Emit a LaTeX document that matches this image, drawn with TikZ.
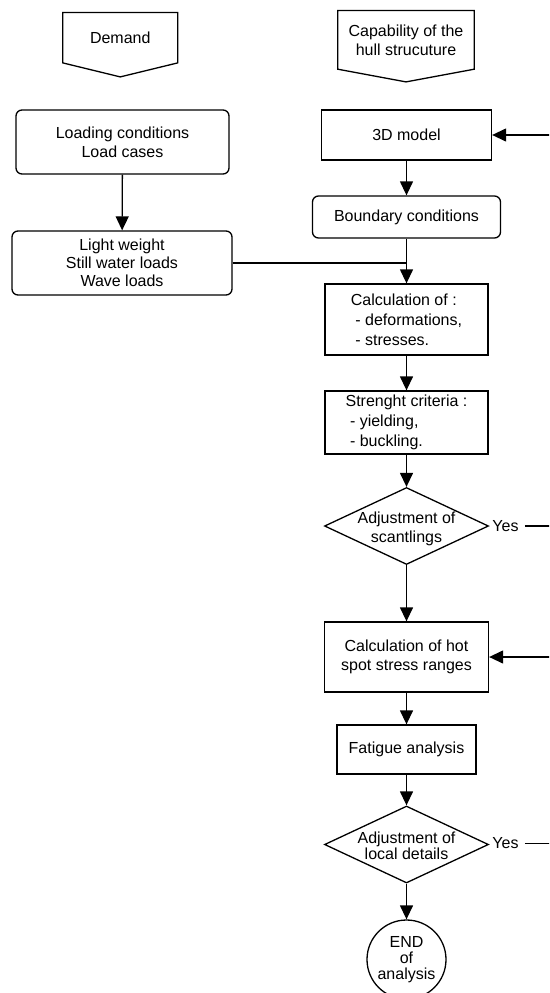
\documentclass[tikz,border=0pt]{standalone}
\usepackage{fontspec}
\setmainfont{Liberation Sans}
\usetikzlibrary{arrows.meta,shapes.geometric,calc}
\begin{document}
\begin{tikzpicture}[x=1pt,y=-1pt,
  every node/.style={font=\fontsize{16pt}{19pt}\selectfont},
  line/.style={line width=1.3pt},
  arr/.style={line width=1.3pt,-{Triangle[length=14pt,width=13pt]}},
  plainbox/.style={draw,line width=1.3pt,inner sep=2pt,align=center},
  roundbox/.style={plainbox,rounded corners=6pt},
  gate/.style={draw=none,inner sep=0pt,align=center},
  decision/.style={diamond,draw,line width=1.3pt,inner sep=0pt,
    minimum width=164pt,minimum height=77pt},
  terminal/.style={circle,draw,line width=1.3pt,inner sep=0pt,
    minimum size=79pt,align=center,font=\fontsize{16pt}{16pt}\selectfont}
]
\useasboundingbox (0,0) rectangle (549,993);
\clip (0,0) rectangle (549,993);

% off-page entry markers
\node[gate,minimum width=114.5pt,minimum height=50pt] (demand) at (120.25,37.7) {Demand};
\draw[line,line join=miter] (demand.north west) -- (demand.north east)
  -- (demand.south east) -- ($(demand.south)+(0,14)$) -- (demand.south west) -- cycle;

\node[gate,minimum width=136pt,minimum height=58.3pt] (capab) at (406,39.85) {Capability of the\\hull strucuture};
\draw[line,line join=miter] (capab.north west) -- (capab.north east)
  -- (capab.south east) -- ($(capab.south)+(0,12.7)$) -- (capab.south west) -- cycle;

% load branch
\node[roundbox,minimum width=213pt,minimum height=64pt] (loading) at (122.5,142) {Loading conditions\\Load cases};
\node[roundbox,minimum width=220pt,minimum height=64pt,font=\fontsize{16pt}{18pt}\selectfont] (light) at (122,263) {Light weight\\Still water loads\\Wave loads};

% structural branch
\node[plainbox,minimum width=170pt,minimum height=50pt] (model) at (406.5,135) {3D model};
\node[roundbox,minimum width=188pt,minimum height=42pt] (bound) at (406.5,217) {Boundary conditions};
\coordinate (merge) at (406.5,263);
\node[plainbox,minimum width=163pt,minimum height=71pt,align=left,font=\fontsize{16pt}{20pt}\selectfont] (calc) at (406.5,319.5) {Calculation of :\\\ - deformations,\\\ - stresses.};
\node[plainbox,minimum width=163pt,minimum height=63pt,align=left,font=\fontsize{16pt}{20pt}\selectfont] (strength) at (406.5,422.5) {Strenght criteria :\\\ - yielding,\\\ - buckling.};
\node[decision,label={[align=center,yshift=-3pt]center:Adjustment of\\scantlings}] (d1) at (406.5,526) {};
\node[plainbox,minimum width=164pt,minimum height=70pt] (hot) at (406.5,657) {Calculation of hot\\spot stress ranges};
\node[plainbox,minimum width=139pt,minimum height=49pt] (fatigue) at (406.5,749.5) {Fatigue analysis};
\node[decision,label={[align=center,yshift=-1pt,font=\fontsize{16pt}{16pt}\selectfont]center:Adjustment of\\local details}] (d2) at (406.5,844.5) {};
\node[terminal] (endc) at (406.5,959.5) {END\\of\\analysis};

% "Yes" exits and loop-back entries at the right edge
\node[inner sep=0pt] (yes1) at (505.5,526) {Yes};
\node[inner sep=0pt] (yes2) at (505.5,843.5) {Yes};
\coordinate (y1r) at (552,526);
\coordinate (y2r) at (552,843.5);
\coordinate (r1) at (552,135);
\coordinate (r2) at (552,657);

% connectors
\draw[arr] (loading) -- (light);
\draw[arr] (model) -- (bound);
\draw[line] (bound.south) -- (merge);
\draw[line] (light.east) -- (merge);
\draw[arr] (merge) -- (calc.north);
\draw[arr] (calc) -- (strength);
\draw[arr] (strength) -- (d1.north);
\draw[arr] (d1.south) -- (hot.north);
\draw[arr] (hot) -- (fatigue);
\draw[arr] (fatigue.south) -- (d2.north);
\draw[arr] (d2.south) -- (endc.north);
\draw[line,shorten <=6pt] (yes1.east) -- (y1r);
\draw[line,shorten <=6pt] (yes2.east) -- (y2r);
\draw[arr] (r1) -- (model.east);
\draw[arr] (r2) -- (hot.east);
\end{tikzpicture}
\end{document}
